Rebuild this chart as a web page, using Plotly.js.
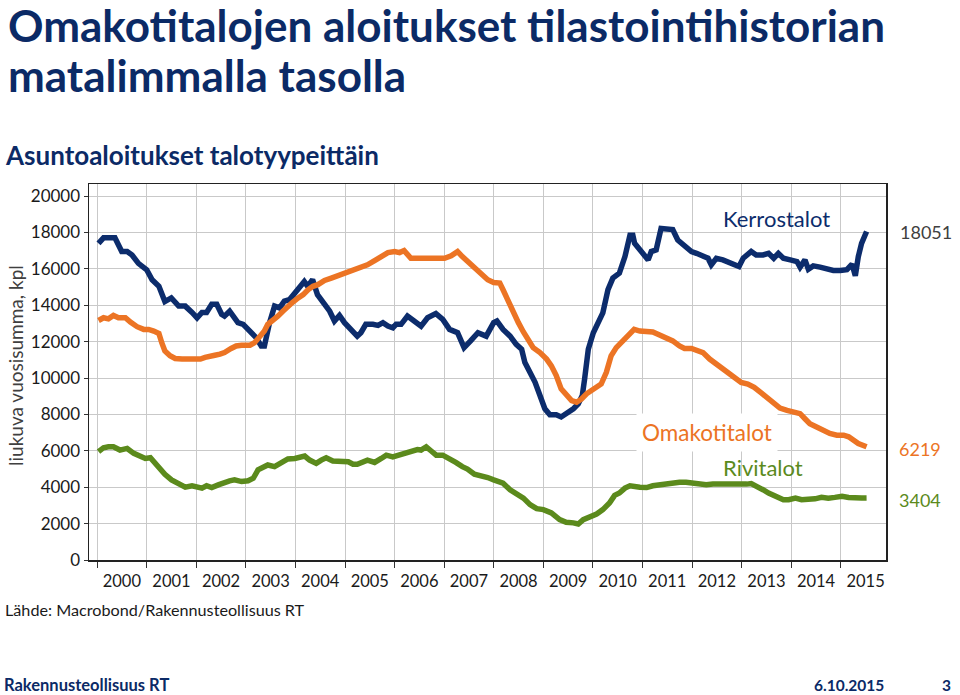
<!DOCTYPE html>
<html><head><meta charset="utf-8">
<script src="https://cdn.plot.ly/plotly-3.0.1.min.js"></script>
<style>body{margin:0;background:#fff}#chart{width:960px;height:695px}</style>
</head><body><div id="chart"></div>
<script>
// Kerrostalot (apartment blocks), rolling 12-month sum
const kerrosDates = ['2000-01-12','2000-02-18','2000-05-12','2000-07-01','2000-08-10','2000-09-15','2000-11-01','2001-01-01','2001-02-10','2001-04-01','2001-05-15','2001-07-01','2001-08-25','2001-10-12','2001-12-01','2002-01-07','2002-02-12','2002-03-18','2002-04-25','2002-06-01','2002-07-07','2002-07-28','2002-09-04','2002-11-04','2002-12-13','2003-02-01','2003-03-18','2003-04-25','2003-05-18','2003-06-25','2003-08-01','2003-09-07','2003-10-12','2003-11-18','2003-12-28','2004-02-01','2004-03-07','2004-04-01','2004-05-07','2004-06-12','2004-08-01','2004-09-10','2004-10-15','2004-11-21','2004-12-28','2005-02-18','2005-04-01','2005-04-28','2005-06-03','2005-07-25','2005-09-01','2005-10-07','2005-11-13','2005-12-19','2006-01-12','2006-02-18','2006-04-06','2006-05-25','2006-07-15','2006-09-01','2006-11-01','2006-12-22','2007-02-10','2007-04-10','2007-05-28','2007-07-15','2007-09-07','2007-11-07','2008-01-01','2008-01-25','2008-03-10','2008-05-01','2008-06-15','2008-07-25','2008-08-18','2008-09-25','2008-11-01','2008-12-07','2009-01-12','2009-02-18','2009-04-06','2009-05-12','2009-06-18','2009-08-10','2009-09-15','2009-10-15','2009-11-01','2009-11-28','2010-01-04','2010-02-10','2010-03-15','2010-04-22','2010-05-28','2010-07-15','2010-08-25','2010-10-01','2010-10-22','2010-11-04','2010-12-25','2011-02-12','2011-03-07','2011-04-12','2011-05-18','2011-06-25','2011-08-12','2011-09-18','2011-11-07','2011-12-28','2012-02-03','2012-03-22','2012-04-28','2012-05-22','2012-06-28','2012-08-15','2012-10-15','2012-12-12','2013-01-12','2013-03-12','2013-04-18','2013-06-07','2013-07-18','2013-08-25','2013-09-28','2013-11-04','2013-12-25','2014-02-12','2014-03-07','2014-04-12','2014-05-07','2014-06-12','2014-08-01','2014-09-18','2014-11-07','2014-12-28','2015-02-15','2015-03-25','2015-04-10','2015-04-18','2015-05-10','2015-06-03','2015-07-10'];
const kerrosValues = [17400,17700,17700,16950,16950,16760,16300,15950,15400,15040,14200,14400,13950,13950,13600,13300,13600,13600,14050,14050,13500,13400,13670,13040,12950,12580,12220,11760,11760,13040,13950,13850,14220,14300,14670,15040,15300,15040,15400,14580,14040,13670,13130,13440,13040,12580,12300,12490,12950,12950,12890,13040,12850,12760,12950,12950,13400,13130,12850,13310,13540,13220,12670,12490,11670,12040,12490,12300,13040,13130,12670,12300,11850,11580,10850,10300,9760,9040,8310,7980,7980,7860,8040,8310,8580,9040,9950,11580,12490,13040,13580,14860,15490,15760,16670,17850,17850,17400,16950,16490,16950,17040,18220,18160,18160,17580,17220,16950,16850,16670,16580,16220,16580,16490,16310,16130,16580,16950,16760,16760,16850,16580,16850,16580,16490,16400,16090,16490,15980,16160,16090,15980,15910,15910,15950,16250,15760,15620,16670,17400,18051];

// Omakotitalot (detached houses)
const omakotiDates = ['2000-01-12','2000-02-18','2000-03-25','2000-05-01','2000-06-07','2000-07-28','2000-09-03','2000-10-22','2000-12-10','2001-01-15','2001-02-22','2001-04-01','2001-04-22','2001-05-15','2001-06-22','2001-07-30','2001-09-18','2001-11-07','2001-12-25','2002-02-01','2002-03-07','2002-04-12','2002-05-18','2002-06-25','2002-07-28','2002-09-15','2002-10-22','2002-12-01','2003-02-01','2003-03-07','2003-04-12','2003-05-18','2003-06-12','2003-07-18','2003-08-25','2003-10-01','2003-11-07','2003-12-12','2004-01-22','2004-02-28','2004-04-03','2004-05-10','2004-06-15','2004-08-03','2004-09-22','2004-11-10','2004-12-28','2005-02-18','2005-04-01','2005-06-15','2005-08-07','2005-09-25','2005-11-13','2006-01-01','2006-02-07','2006-03-12','2006-04-06','2006-05-01','2006-06-18','2006-08-10','2006-09-28','2006-11-15','2007-01-04','2007-02-22','2007-04-10','2007-05-15','2007-06-22','2007-08-12','2007-10-01','2007-11-18','2008-01-01','2008-02-15','2008-03-10','2008-04-15','2008-05-22','2008-07-01','2008-08-07','2008-09-12','2008-10-18','2008-12-07','2009-01-25','2009-03-01','2009-04-06','2009-05-12','2009-06-18','2009-07-28','2009-09-03','2009-10-10','2009-11-15','2009-12-22','2010-01-28','2010-03-03','2010-04-10','2010-05-15','2010-06-22','2010-07-28','2010-09-07','2010-10-12','2010-11-01','2010-12-13','2011-02-01','2011-03-18','2011-04-25','2011-06-12','2011-08-12','2011-10-01','2011-11-07','2011-12-28','2012-02-03','2012-03-22','2012-05-10','2012-06-28','2012-08-03','2012-09-22','2012-11-10','2012-12-28','2013-02-15','2013-04-03','2013-05-25','2013-07-18','2013-08-25','2013-10-10','2013-12-01','2014-01-18','2014-03-07','2014-04-12','2014-05-18','2014-07-07','2014-08-25','2014-10-12','2014-12-03','2015-01-22','2015-02-28','2015-04-03','2015-05-10','2015-07-10'];
const omakotiValues = [13160,13310,13250,13440,13310,13310,13070,12820,12670,12670,12580,12450,11940,11490,11220,11070,11040,11040,11000,11040,11130,11220,11250,11310,11400,11620,11760,11800,11800,11940,12220,12580,12950,13130,13400,13670,13950,14160,14400,14580,14850,15040,15130,15360,15490,15620,15760,15850,16040,16220,16450,16670,16890,16950,16890,17000,16760,16580,16580,16580,16530,16530,16580,16710,16950,16670,16400,16040,15670,15400,15250,15220,14850,14220,13580,13040,12530,12160,11670,11400,11040,10670,10130,9400,9040,8760,8670,8850,9130,9310,9440,9670,10310,11220,11670,11940,12310,12580,12670,12580,12530,12530,12400,12220,12040,11760,11620,11620,11550,11400,11040,10770,10580,10220,9950,9760,9670,9490,9180,8850,8670,8350,8220,8130,8040,7760,7490,7310,7130,6950,6860,6860,6770,6580,6400,6219];

// Rivitalot (terraced houses)
const riviDates = ['2000-01-12','2000-02-18','2000-03-25','2000-05-01','2000-06-18','2000-08-10','2000-09-28','2000-11-15','2000-12-22','2001-01-28','2001-02-22','2001-03-28','2001-05-15','2001-07-03','2001-08-25','2001-10-12','2001-12-01','2002-01-07','2002-02-12','2002-03-18','2002-04-25','2002-06-12','2002-07-28','2002-09-04','2002-10-10','2002-12-01','2003-01-18','2003-02-25','2003-04-01','2003-05-07','2003-06-12','2003-08-01','2003-09-18','2003-11-07','2003-12-28','2004-02-03','2004-03-10','2004-04-15','2004-06-03','2004-07-10','2004-08-15','2004-10-03','2004-11-21','2005-01-25','2005-03-01','2005-04-01','2005-06-15','2005-08-07','2005-09-25','2005-11-01','2005-12-19','2006-02-07','2006-03-25','2006-05-01','2006-06-18','2006-07-15','2006-08-22','2006-09-28','2006-11-04','2006-12-22','2007-02-10','2007-03-28','2007-05-15','2007-06-22','2007-08-12','2007-10-01','2007-11-18','2008-01-01','2008-03-10','2008-05-01','2008-06-15','2008-08-07','2008-09-25','2008-11-13','2009-01-01','2009-03-01','2009-05-01','2009-06-18','2009-08-10','2009-09-15','2009-10-22','2009-12-10','2010-01-28','2010-03-15','2010-05-03','2010-06-10','2010-07-15','2010-08-25','2010-10-01','2010-12-13','2011-02-01','2011-03-18','2011-05-07','2011-06-25','2011-08-12','2011-10-01','2011-11-18','2012-01-10','2012-02-28','2012-04-15','2012-06-03','2012-07-22','2012-09-10','2012-10-28','2012-12-15','2013-02-07','2013-03-12','2013-05-01','2013-06-07','2013-07-18','2013-09-04','2013-11-04','2013-12-13','2014-02-01','2014-03-18','2014-05-07','2014-06-25','2014-08-12','2014-10-01','2014-11-18','2015-01-10','2015-02-28','2015-04-15','2015-06-03','2015-07-10'];
const riviValues = [5950,6170,6220,6220,6040,6130,5860,5670,5580,5620,5400,5040,4710,4400,4170,4000,4080,3980,3950,4080,3980,4130,4270,4350,4400,4310,4350,4490,4950,5130,5220,5130,5310,5550,5580,5620,5710,5490,5310,5490,5620,5440,5400,5400,5260,5260,5490,5360,5580,5760,5670,5760,5860,5950,6070,6040,6220,5990,5760,5760,5580,5360,5130,5000,4710,4640,4530,4400,4220,3860,3680,3400,3040,2820,2770,2590,2220,2070,2040,1980,2220,2350,2530,2770,3130,3550,3680,3950,4080,4000,3980,4080,4130,4170,4270,4270,4270,4220,4130,4130,4180,4170,4130,4170,4130,4170,4200,4040,3860,3680,3500,3310,3310,3400,3310,3310,3360,3440,3400,3440,3500,3440,3400,3400,3404];

const seriesNames = ['Kerrostalot','Omakotitalot','Rivitalot'];
const lastLabels = ['18051','6219','3404'];
const yTicks = [0,2000,4000,6000,8000,10000,12000,14000,16000,18000,20000];

const NAVY = '#0c2c6c', ORANGE = '#ec7424', GREEN = '#5b8a1c', TITLE = '#0b2a66';
const FONT = 'Lato, "Open Sans", sans-serif';

// pixel -> paper helpers (plot area 89..886 x 184..560)
const L = 89, R = 886, T = 184, B = 560;
const px = x => (x - L) / (R - L);
const py = y => (B - y) / (B - T);

const traces = [
  {x: kerrosDates, y: kerrosValues, name: seriesNames[0], mode: 'lines', line: {color: NAVY, width: 5.5}},
  {x: omakotiDates, y: omakotiValues, name: seriesNames[1], mode: 'lines', line: {color: ORANGE, width: 5.5}},
  {x: riviDates, y: riviValues, name: seriesNames[2], mode: 'lines', line: {color: GREEN, width: 5.5}}
];

const ann = (text, x, y, opts) => Object.assign({text, xref: 'paper', yref: 'paper', x: px(x), y: py(y), showarrow: false, xanchor: 'center', yanchor: 'middle'}, opts);

const annotations = [
  ann('Omakotitalojen aloitukset tilastointihistorian', 6, 25, {xanchor: 'left', font: {family: FONT, size: 44, color: TITLE, weight: 700}}),
  ann('matalimmalla tasolla', 6, 75, {xanchor: 'left', font: {family: FONT, size: 44, color: TITLE, weight: 700}}),
  ann('Asuntoaloitukset talotyypeittäin', 3, 155, {xanchor: 'left', font: {family: FONT, size: 26, color: TITLE, weight: 700}}),
  ann('liukuva vuosisumma, kpl', 15, 366, {textangle: -90, font: {family: FONT, size: 19, color: '#404040'}}),
  ann('Lähde: Macrobond/Rakennusteollisuus RT', 3, 609, {xanchor: 'left', font: {family: FONT, size: 16.2, color: '#1a1a1a'}}),
  ann('Rakennusteollisuus RT', 2, 685, {xanchor: 'left', font: {family: FONT, size: 16.5, color: TITLE, weight: 700}}),
  ann('6.10.2015', 886, 685, {xanchor: 'right', font: {family: FONT, size: 15.5, color: TITLE, weight: 700}}),
  ann('3', 953, 685, {xanchor: 'right', font: {family: FONT, size: 15.5, color: TITLE, weight: 700}}),
  ann(seriesNames[0], 776, 218, {font: {family: FONT, size: 22, color: NAVY}}),
  ann(seriesNames[1], 707, 432, {font: {family: FONT, size: 22.5, color: ORANGE}, bgcolor: '#ffffff', borderpad: 5}),
  ann(seriesNames[2], 763, 467, {font: {family: FONT, size: 22, color: GREEN}}),
  ann(lastLabels[0], 926, 232, {font: {family: FONT, size: 18, color: '#404040'}}),
  ann(lastLabels[1], 920, 449, {font: {family: FONT, size: 18, color: ORANGE}}),
  ann(lastLabels[2], 920, 500, {font: {family: FONT, size: 18, color: GREEN}})
];

const layout = {
  width: 960, height: 695,
  margin: {l: L, r: 960 - R, t: T, b: 695 - B, pad: 0},
  paper_bgcolor: '#ffffff', plot_bgcolor: '#ffffff',
  showlegend: false,
  font: {family: FONT, color: '#1a1a1a'},
  xaxis: {
    type: 'date', range: ['1999-11-03', '2015-11-30'],
    tick0: '2000-01-01', dtick: 'M12', tickformat: '%Y', ticklabelmode: 'period',
    ticks: 'outside', ticklen: 6, tickcolor: '#333', tickwidth: 1,
    showgrid: true, gridcolor: '#c9c9c9', gridwidth: 1,
    showline: true, linecolor: '#222', linewidth: 1.5, mirror: true,
    tickfont: {family: FONT, size: 16.5, color: '#1a1a1a'},
    zeroline: false
  },
  yaxis: {
    range: [0, 20660], tickvals: yTicks, ticktext: yTicks.map(String),
    ticks: 'outside', ticklen: 4, tickcolor: '#333', tickwidth: 1,
    showgrid: true, gridcolor: '#c9c9c9', gridwidth: 1,
    showline: true, linecolor: '#222', linewidth: 1.5, mirror: true,
    tickfont: {family: FONT, size: 17, color: '#1a1a1a'},
    zeroline: false
  },
  annotations
};

Plotly.newPlot('chart', traces, layout, {displayModeBar: false, staticPlot: true});
</script>
</body></html>
